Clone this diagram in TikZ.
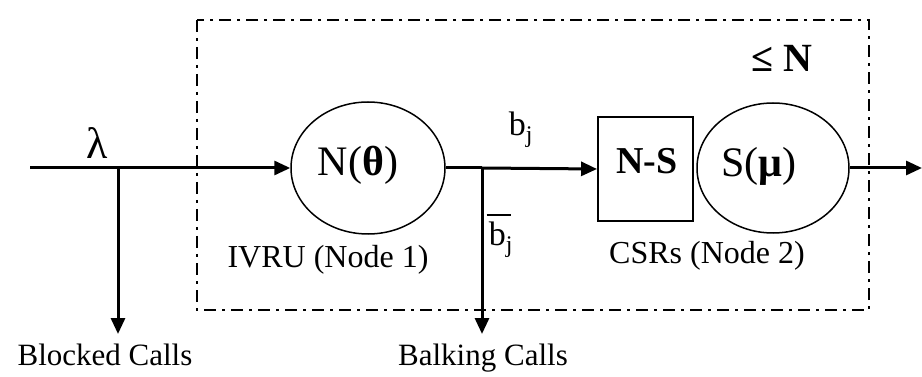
\documentclass[tikz,border=0pt]{standalone}
\usepackage{fontspec}
\setmainfont{Liberation Serif}
\usetikzlibrary{shapes.geometric,arrows.meta}
\begin{document}
\begin{tikzpicture}[x=1pt,y=-1pt,
  flow/.style={line width=3pt},
  arr/.style={flow,-{Triangle[length=16pt,width=14pt]}},
  circ/.style={draw,line width=1.5pt,ellipse,inner sep=0pt},
  lbl/.style={inner sep=0pt,font=\fontsize{31}{34}\selectfont},
  big/.style={inner sep=0pt,font=\fontsize{42}{46}\selectfont},
  frame/.style={line width=2.6pt,dash pattern=on 12pt off 6pt on 3pt off 6pt}]
\useasboundingbox (0,0) rectangle (922,377);
% dashed frame
\draw[frame] (197,20) rectangle (869,310);
% nodes
\node[circ,minimum width=154pt,minimum height=132pt] (e1) at (368,168) {};
\node[big] (t1) at (358,165) {N(\textbf{θ})};
\node[draw,line width=1.9pt,minimum width=95pt,minimum height=104pt,inner sep=0pt] (ns) at (645.5,169) {};
\node[big,font=\fontsize{38}{42}\selectfont\bfseries] (t2) at (647,161) {N-S};
\node[circ,minimum width=152pt,minimum height=130pt] (e2) at (773,168) {};
\node[big] (t3) at (759,166) {S(\textbf{μ})};
% coordinates
\coordinate (start) at (30,168);
\coordinate (br1) at (118,168);
\coordinate (blk) at (118,334);
\coordinate (br2) at (482,168);
\coordinate (bal) at (482,334);
\coordinate (out) at (922,168);
% connectors
\draw[flow] (start) -- (br1);
\draw[arr] (br1) -- (e1.west);
\draw[arr] (br1) -- (blk);
\draw[flow] (e1.east) -- (br2);
\draw[arr] (br2) -- (ns.west);
\draw[arr] (br2) -- (bal);
\draw[arr] (e2.east) -- (out);
% labels
\node[lbl,font=\fontsize{44}{48}\selectfont] (lam) at (97,143) {λ};
\node[lbl,font=\fontsize{34}{38}\selectfont] (bj) at (521,130) {b\textsubscript{j}};
\node[lbl,font=\fontsize{34}{38}\selectfont] (bbj) at (501,240) {b\textsubscript{j}};
\draw[line width=1.5pt] ([xshift=-2pt,yshift=7pt]bbj.north west) -- ([xshift=22pt,yshift=7pt]bbj.north west);
\node[lbl,font=\fontsize{40}{44}\selectfont\bfseries] (le) at (782,58) {≤ N};
\node[lbl,font=\fontsize{32}{36}\selectfont] (ivru) at (328,260) {IVRU (Node 1)};
\node[lbl,font=\fontsize{32}{36}\selectfont] (csr) at (707,256) {CSRs (Node 2)};
\node[lbl] (blc) at (105,355) {Blocked Calls};
\node[lbl] (bac) at (483,358) {Balking Calls};
\end{tikzpicture}
\end{document}
